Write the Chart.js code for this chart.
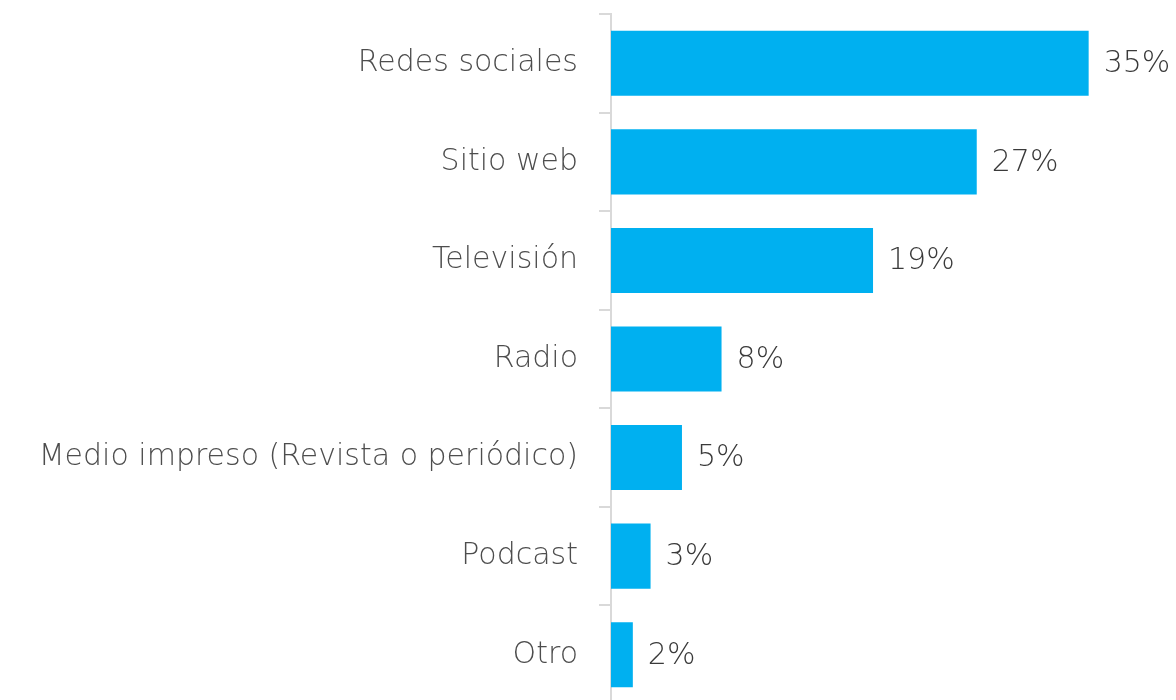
<!DOCTYPE html>
<html>
<head>
<meta charset="utf-8">
<script src="https://cdn.jsdelivr.net/npm/chart.js@4"></script>
<style>
  html, body { margin: 0; padding: 0; background: #fff; overflow: hidden; }
  #wrap { width: 1176px; height: 704px; }
</style>
</head>
<body>
<div id="wrap"><canvas id="chart"></canvas></div>
<script>
// categories and values
const categories = ["Redes sociales", "Sitio web", "Televisión", "Radio",
  "Medio impreso (Revista o periódico)", "Podcast", "Otro"];
const values = [35, 26.8, 19.2, 8.1, 5.2, 2.9, 1.6];
const valueLabels = ["35%", "27%", "19%", "8%", "5%", "3%", "2%"];

const FONT = "'DejaVu Sans', sans-serif";

// draws the % label at the end of each bar
const barLabels = {
  id: "barLabels",
  afterDatasetsDraw(chart) {
    const ctx = chart.ctx;
    const meta = chart.getDatasetMeta(0);
    ctx.save();
    ctx.font = "200 30px " + FONT;
    ctx.fillStyle = "#3a3a3a";
    ctx.textAlign = "left";
    ctx.textBaseline = "middle";
    meta.data.forEach((bar, i) => {
      ctx.fillText(valueLabels[i], bar.x + 15, bar.y + 1);
    });
    ctx.restore();
  }
};

new Chart(document.getElementById("chart"), {
  type: "bar",
  data: {
    labels: categories,
    datasets: [{
      data: values,
      backgroundColor: "#00B0F0",
      categoryPercentage: 1,
      barPercentage: 0.66
    }]
  },
  options: {
    indexAxis: "y",
    responsive: true,
    maintainAspectRatio: false,
    animation: false,
    layout: { padding: { top: 14, right: 0, bottom: 0, left: 0 } },
    plugins: {
      legend: { display: false },
      tooltip: { enabled: false }
    },
    scales: {
      x: {
        display: false,
        min: 0,
        max: 41.4
      },
      y: {
        afterFit(scale) {
          scale.width = 611;
          scale.paddingTop = 0;
          scale.paddingBottom = 0;
        },
        grid: {
          offset: true,
          drawOnChartArea: false,
          drawTicks: true,
          tickLength: 12,
          color: "#d9d9d9",
          lineWidth: 2
        },
        border: { display: true, color: "#d9d9d9", width: 2 },
        ticks: {
          padding: 21,
          color: "#4d4d4d",
          font: { family: FONT, size: 30, weight: "200" }
        }
      }
    }
  },
  plugins: [barLabels]
});
</script>
</body>
</html>
